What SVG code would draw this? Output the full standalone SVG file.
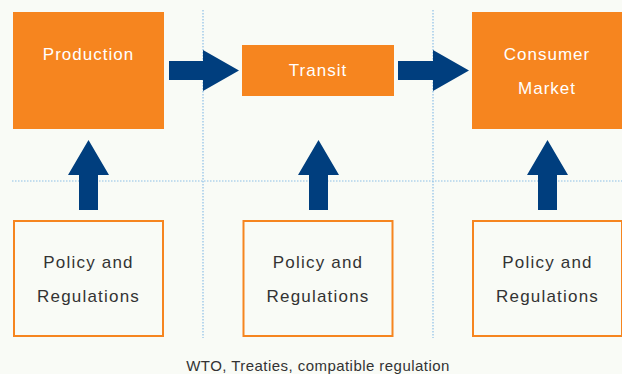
<svg xmlns="http://www.w3.org/2000/svg" width="622" height="374" viewBox="0 0 622 374">
<style>
.bg{fill:#F9FBF6}
.grid{stroke:#8DBFE6;stroke-width:1.2;stroke-dasharray:1.5 1.5;fill:none}
.solid{fill:#F6851F}
.outline{fill:#F9FBF6;stroke:#F6851F;stroke-width:2}
.arrow{fill:#003E7E}
.wt{font-family:"Liberation Sans",Arial,sans-serif;font-size:17px;letter-spacing:1px;fill:#FFFFFF;text-anchor:middle}
.dt{font-family:"Liberation Sans",Arial,sans-serif;font-size:17px;letter-spacing:1.2px;fill:#333333;text-anchor:middle}
.cap{font-family:"Liberation Sans",Arial,sans-serif;font-size:15px;letter-spacing:0.45px;fill:#333333;text-anchor:middle}
</style>
<rect class="bg" x="0" y="0" width="622" height="374"/>
<g id="gridlines">
<line class="grid" x1="203" y1="10" x2="203" y2="338"/>
<line class="grid" x1="433" y1="10" x2="433" y2="338"/>
<line class="grid" x1="12" y1="181" x2="622" y2="181"/>
</g>
<g id="production">
<rect class="solid" x="13" y="12" width="151" height="117"/>
<text class="wt" x="88.5" y="60">Production</text>
</g>
<g id="transit">
<rect class="solid" x="242" y="45" width="152" height="51"/>
<text class="wt" x="318" y="76">Transit</text>
</g>
<g id="consumer">
<rect class="solid" x="472" y="12" width="150" height="117"/>
<text class="wt" x="547" y="60">Consumer</text>
<text class="wt" x="547" y="94">Market</text>
</g>
<g id="policy1">
<rect class="outline" x="14" y="221" width="149" height="115"/>
<text class="dt" x="88.5" y="268">Policy and</text>
<text class="dt" x="88.5" y="302">Regulations</text>
</g>
<g id="policy2">
<rect class="outline" x="243.5" y="221" width="149" height="115"/>
<text class="dt" x="318" y="268">Policy and</text>
<text class="dt" x="318" y="302">Regulations</text>
</g>
<g id="policy3">
<rect class="outline" x="473" y="221" width="149" height="115"/>
<text class="dt" x="547.5" y="268">Policy and</text>
<text class="dt" x="547.5" y="302">Regulations</text>
</g>
<g id="connectors">
<polygon class="arrow" points="169,61 203,61 203,50 239,70.5 203,91 203,80 169,80"/>
<polygon class="arrow" points="398,61 433,61 433,50 469,70.5 433,91 433,80 398,80"/>
<polygon class="arrow" points="79,210 79,175 68,175 88.5,140 109,175 98,175 98,210"/>
<polygon class="arrow" points="309,210 309,175 298,175 318.5,140 339,175 328,175 328,210"/>
<polygon class="arrow" points="538,210 538,175 527,175 547.5,140 568,175 557,175 557,210"/>
</g>
<text class="cap" x="318" y="371">WTO, Treaties, compatible regulation</text>
</svg>
